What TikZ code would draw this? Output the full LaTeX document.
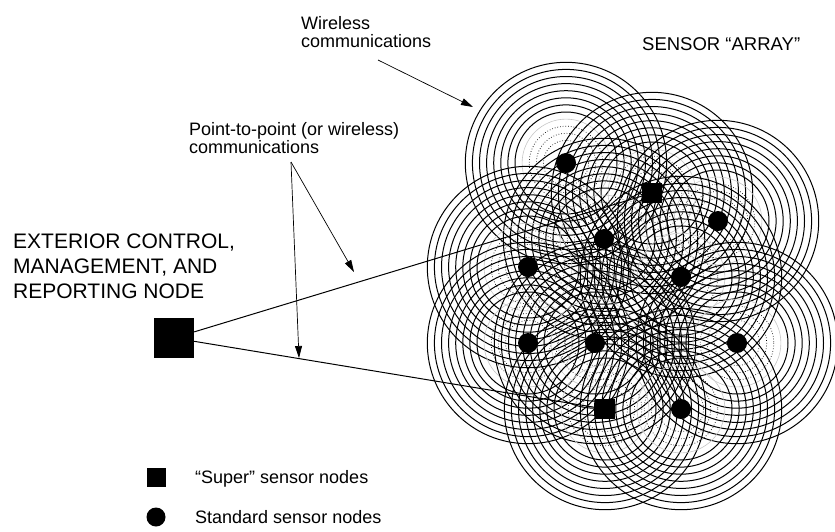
\documentclass[tikz,border=0pt]{standalone}
\usepackage{fontspec}
\setmainfont{Liberation Sans}
\usetikzlibrary{positioning}
\usetikzlibrary{arrows.meta}
\pgfdeclarelayer{background}
\pgfsetlayers{background,main}
\tikzset{
    super/.style={
        fill=black,
        minimum size=20pt,
        inner sep=0pt
    },
    standard/.style={
        circle,
        fill=black,
        minimum size=20pt,
        inner sep=0pt
    },
    ring/.style={
        line width=1pt
    },
    inner ring/.style={
        line width=0.7pt,
        dotted
    },
    faint ring/.style={
        line width=0.6pt,
        gray!45
    },
    pointer/.style={
        -{Triangle[length=12pt,width=7pt]},
        line width=0.7pt
    },
    link/.style={
        line width=1pt
    }
}

\begin{document}
\begin{tikzpicture}[x=1pt, y=-1pt,
    label node/.style={font=\fontsize{18}{17.7}\selectfont, align=left, anchor=base west, inner sep=0pt},
    big node/.style={font=\fontsize{21}{25}\selectfont, align=left, anchor=base west, inner sep=0pt}]
    \useasboundingbox (0,0) rectangle (835,531);

    \node[standard] (n1) at (566,163) {};
    \node[super] (s1) at (652,193) {};
    \node[standard] (n2) at (718,221) {};
    \node[standard] (n3) at (604,239) {};
    \node[standard] (n4) at (528,267) {};
    \node[standard] (n5) at (681,277) {};
    \node[standard] (n6) at (528,343) {};
    \node[standard] (n7) at (595,343) {};
    \node[standard] (n8) at (737,343) {};
    \node[super] (s2) at (605,409) {};
    \node[standard] (n9) at (681,409) {};

    \node[super, minimum size=40pt] (ext) at (174,338) {};

    \node[label node] (lwireless) at (301,47) {Wireless\\communications};
    \node[label node] (lptp) at (189,153) {Point-to-point (or wireless)\\communications};
    \node[big node] (lext) at (13,298) {EXTERIOR CONTROL,\\MANAGEMENT, AND\\REPORTING NODE};
    \node[label node, font=\fontsize{18.5}{18.5}\selectfont] (larray) at (642,50) {SENSOR “ARRAY”};

    \node[super, minimum size=19pt] (ksuper) at (156,477) {};
    \node[standard, minimum size=19pt] (kstandard) at (156,517) {};
    \node[label node] (lsuper) at (195,483) {“Super” sensor nodes};
    \node[label node] (lstandard) at (195,523) {Standard sensor nodes};

    \coordinate (wfrom) at (378,60);
    \coordinate (wto) at (473,107);
    \coordinate (pfrom) at (291,162);
    \coordinate (pto1) at (354,272);
    \coordinate (pto2) at (299,358);

    \begin{pgfonlayer}{background}
        \foreach \n in {n1,s1,n2,n3,n4,n5,n6,n7,n8,s2,n9} {
            \foreach \r in {51,58.1,...,101}
                \draw[ring] (\n.center) circle[radius=\r];
            \foreach \r in {22.6,29.7,36.8}
                \draw[inner ring] (\n.center) circle[radius=\r];
            \draw[faint ring] (\n.center) circle[radius=43.9];
        }
    \end{pgfonlayer}

    \draw[link] (ext) -- (s1);
    \draw[link] (ext) -- (s2);

    \draw[pointer] (wfrom) -- (wto);
    \draw[pointer] (pfrom) -- (pto1);
    \draw[pointer] (pfrom) -- (pto2);
\end{tikzpicture}
\end{document}
